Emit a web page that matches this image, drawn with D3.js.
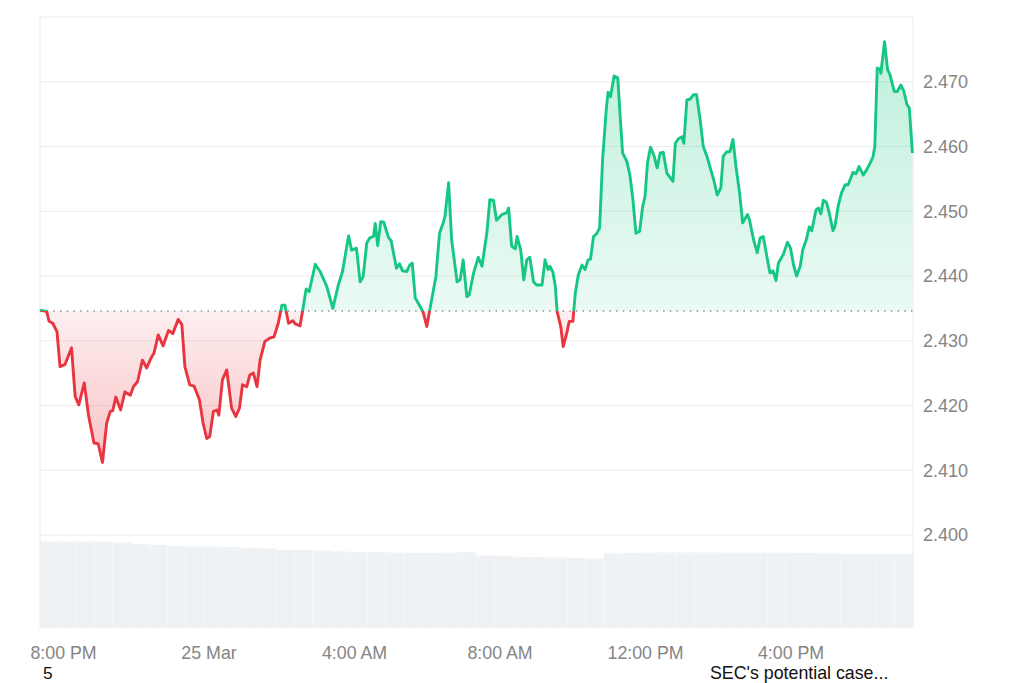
<!DOCTYPE html>
<html>
<head>
<meta charset="utf-8">
<script src="https://cdn.jsdelivr.net/npm/d3@7"></script>
<style>
  body { margin: 0; background: #fff; }
  text { font-family: "Liberation Sans", Arial, sans-serif; }
</style>
</head>
<body>
<script>
// 24h window, first point is the open price (dotted baseline)
const startTime = new Date(2025, 2, 24, 19, 22);

// minutes after startTime
const minutes = [
  0, 3, 11, 15, 21, 28, 33, 41, 52, 58, 64, 73, 80, 89, 96, 103, 110, 116, 120, 125,
  133, 140, 149, 154, 161, 169, 176, 183, 188, 195, 203, 212, 219, 228, 234, 239, 247, 254, 263, 269,
  275, 280, 286, 292, 295, 301, 308, 316, 323, 329, 334, 341, 346, 352, 358, 363, 371, 379, 386, 393,
  399, 404, 410, 417, 421, 429, 433, 439, 444, 454, 462, 473, 483, 492, 499, 509, 514, 522, 528, 533,
  539, 544, 550, 553, 557, 562, 567, 575, 579, 588, 593, 598, 605, 610, 614, 619, 627, 632, 638, 643,
  653, 659, 665, 668, 674, 679, 688, 693, 698, 704, 708, 715, 723, 729, 737, 742, 748, 753, 762, 770,
  773, 778, 784, 787, 793, 798, 803, 808, 814, 819, 828, 833, 838, 841, 846, 850, 853, 859, 863, 869,
  873, 879, 883, 888, 894, 899, 904, 908, 913, 918, 923, 928, 934, 937, 941, 947, 953, 957, 961, 968,
  973, 978, 983, 989, 994, 998, 1002, 1007, 1013, 1018, 1023, 1028, 1034, 1044, 1048, 1053, 1059, 1062, 1067, 1072,
  1078, 1083, 1089, 1094, 1100, 1105, 1112, 1117, 1123, 1127, 1133, 1138, 1143, 1148, 1154, 1159, 1167, 1170, 1177, 1183,
  1188, 1193, 1199, 1204, 1209, 1214, 1218, 1226, 1233, 1238, 1243, 1248, 1254, 1258, 1264, 1269, 1273, 1280, 1284, 1288,
  1292, 1297, 1302, 1308, 1311, 1317, 1322, 1328, 1333, 1341, 1346, 1351, 1358, 1364, 1369, 1374, 1377, 1381, 1386, 1387,
  1393, 1398, 1402, 1409, 1414, 1420, 1425, 1430, 1434, 1439
];

const prices = [
  2.4346, 2.4347, 2.4345, 2.4330, 2.4327, 2.4314, 2.4260, 2.4263, 2.4289, 2.4214, 2.4201, 2.4235, 2.4185, 2.4142, 2.4141, 2.4112, 2.4173, 2.4191, 2.4192, 2.4213,
  2.4193, 2.4221, 2.4216, 2.4229, 2.4237, 2.4270, 2.4258, 2.4273, 2.4281, 2.4309, 2.4292, 2.4316, 2.4311, 2.4333, 2.4325, 2.4260, 2.4232, 2.4230, 2.4209, 2.4173,
  2.4149, 2.4152, 2.4191, 2.4193, 2.4185, 2.4240, 2.4255, 2.4196, 2.4183, 2.4196, 2.4232, 2.4229, 2.4247, 2.4250, 2.4229, 2.4270, 2.4299, 2.4304, 2.4306, 2.4327,
  2.4355, 2.4355, 2.4327, 2.4331, 2.4326, 2.4323, 2.4345, 2.4380, 2.4376, 2.4418, 2.4407, 2.4384, 2.4350, 2.4386, 2.4407, 2.4462, 2.4440, 2.4443, 2.4391, 2.4399,
  2.4451, 2.4459, 2.4461, 2.4481, 2.4447, 2.4484, 2.4483, 2.4459, 2.4455, 2.4412, 2.4419, 2.4408, 2.4407, 2.4417, 2.4420, 2.4366, 2.4353, 2.4344, 2.4322, 2.4348,
  2.4399, 2.4466, 2.4482, 2.4492, 2.4544, 2.4456, 2.4391, 2.4394, 2.4425, 2.4368, 2.4371, 2.4404, 2.4429, 2.4415, 2.4466, 2.4518, 2.4517, 2.4486, 2.4495, 2.4498,
  2.4505, 2.4446, 2.4442, 2.4461, 2.4440, 2.4394, 2.4425, 2.4429, 2.4391, 2.4386, 2.4386, 2.4425, 2.4410, 2.4415, 2.4406, 2.4384, 2.4345, 2.4322, 2.4291, 2.4312,
  2.4330, 2.4330, 2.4374, 2.4402, 2.4417, 2.4410, 2.4425, 2.4426, 2.4461, 2.4465, 2.4474, 2.4580, 2.4657, 2.4684, 2.4677, 2.4709, 2.4706, 2.4646, 2.4590, 2.4577,
  2.4556, 2.4518, 2.4466, 2.4469, 2.4507, 2.4523, 2.4574, 2.4599, 2.4585, 2.4567, 2.4590, 2.4591, 2.4559, 2.4546, 2.4605, 2.4612, 2.4615, 2.4605, 2.4672, 2.4673,
  2.4680, 2.4680, 2.4641, 2.4600, 2.4585, 2.4569, 2.4546, 2.4525, 2.4536, 2.4585, 2.4592, 2.4592, 2.4611, 2.4569, 2.4528, 2.4482, 2.4495, 2.4488, 2.4456, 2.4436,
  2.4459, 2.4461, 2.4430, 2.4405, 2.4408, 2.4393, 2.4420, 2.4433, 2.4452, 2.4443, 2.4417, 2.4400, 2.4415, 2.4440, 2.4456, 2.4476, 2.4470, 2.4502, 2.4505, 2.4496,
  2.4517, 2.4514, 2.4497, 2.4470, 2.4476, 2.4510, 2.4528, 2.4541, 2.4541, 2.4560, 2.4558, 2.4569, 2.4556, 2.4565, 2.4574, 2.4584, 2.4600, 2.4721, 2.4719, 2.4713,
  2.4762, 2.4719, 2.4711, 2.4685, 2.4685, 2.4695, 2.4685, 2.4665, 2.4659, 2.4590
];

// volume, one bar per 30 minutes (millions)
const volumes = [
  86.3, 86.3, 86.3, 86.3, 85.5, 84.0, 83.0, 82.0, 81.3, 81.3, 81.0, 80.0, 79.5, 78.0, 78.0, 77.5,
  76.5, 76.0, 76.0, 75.5, 75.0, 75.0, 75.5, 76.0, 72.5, 72.0, 71.0, 71.0, 70.5, 70.0, 69.5, 74.5,
  75.0, 75.5, 75.7, 75.7, 75.7, 75.5, 75.3, 75.3, 75.2, 75.0, 75.0, 74.5, 74.0, 74.0, 74.0, 74.0
];

const gridTicks = [2.40, 2.41, 2.42, 2.43, 2.44, 2.45, 2.46, 2.47, 2.48];
const labelTicks = [2.40, 2.41, 2.42, 2.43, 2.44, 2.45, 2.46, 2.47];
const notes = ['5', "SEC's potential case..."];

const width = 1024;
const height = 683;
const plot = { left: 40, right: 913, top: 17, bottom: 535 };
const vol = { top: 541.7, bottom: 628 };

const green = '#16c784';
const red = '#e8353f';

const svg = d3.select('body').append('svg').attr('width', width).attr('height', height);
const defs = svg.append('defs');

const x = d3
  .scaleTime()
  .domain([startTime, d3.timeMinute.offset(startTime, 1440)])
  .range([plot.left, plot.right]);
const y = d3.scaleLinear().domain([2.40, 2.48]).range([plot.bottom, plot.top]);
const yVol = d3.scaleLinear().domain([0, d3.max(volumes)]).range([vol.bottom, vol.top]);

const series = minutes.map((m, i) => ({ t: d3.timeMinute.offset(startTime, m), p: prices[i] }));
const baseY = y(prices[0]);

// volume bars (faint light seams between bars like the original)
svg
  .append('g')
  .selectAll('rect')
  .data(volumes)
  .join('rect')
  .attr('x', (d, i) => x(d3.timeMinute.offset(startTime, i * 30)))
  .attr('width', (d, i) => x(d3.timeMinute.offset(startTime, (i + 1) * 30)) - x(d3.timeMinute.offset(startTime, i * 30)))
  .attr('y', d => yVol(d))
  .attr('height', d => vol.bottom - yVol(d))
  .attr('fill', '#eff2f5')
  .attr('stroke', '#f5f7f9')
  .attr('stroke-width', 0.5);

// grid
svg
  .append('g')
  .selectAll('line')
  .data(gridTicks)
  .join('line')
  .attr('x1', plot.left)
  .attr('x2', plot.right)
  .attr('y1', d => y(d))
  .attr('y2', d => y(d))
  .attr('stroke', '#ececec')
  .attr('stroke-width', 1);

// left / right frame
[plot.left, plot.right].forEach(px => {
  svg
    .append('line')
    .attr('x1', px)
    .attr('x2', px)
    .attr('y1', plot.top)
    .attr('y2', vol.bottom)
    .attr('stroke', '#ececec');
});

// gradients
function grad(id, color, y1, y2, o1, o2) {
  const g = defs
    .append('linearGradient')
    .attr('id', id)
    .attr('gradientUnits', 'userSpaceOnUse')
    .attr('x1', 0)
    .attr('x2', 0)
    .attr('y1', y1)
    .attr('y2', y2);
  g.append('stop').attr('offset', 0).attr('stop-color', color).attr('stop-opacity', o1);
  g.append('stop').attr('offset', 1).attr('stop-color', color).attr('stop-opacity', o2);
}
grad('gUp', green, y(d3.max(prices)), baseY, 0.28, 0.09);
grad('gDown', red, baseY, y(d3.min(prices)), 0.08, 0.3);

// clip above / below baseline
defs
  .append('clipPath')
  .attr('id', 'clipUp')
  .append('rect')
  .attr('x', 0)
  .attr('y', 0)
  .attr('width', width)
  .attr('height', baseY);
defs
  .append('clipPath')
  .attr('id', 'clipDown')
  .append('rect')
  .attr('x', 0)
  .attr('y', baseY)
  .attr('width', width)
  .attr('height', height - baseY);

const area = d3
  .area()
  .x(d => x(d.t))
  .y0(baseY)
  .y1(d => y(d.p));
const line = d3
  .line()
  .x(d => x(d.t))
  .y(d => y(d.p));

svg.append('path').datum(series).attr('d', area).attr('fill', 'url(#gUp)').attr('clip-path', 'url(#clipUp)');
svg.append('path').datum(series).attr('d', area).attr('fill', 'url(#gDown)').attr('clip-path', 'url(#clipDown)');

// dotted open-price line
svg
  .append('line')
  .attr('x1', plot.left)
  .attr('x2', plot.right)
  .attr('y1', baseY)
  .attr('y2', baseY)
  .attr('stroke', '#8c8c8c')
  .attr('stroke-width', 1.4)
  .attr('stroke-dasharray', '1.4 5.3');

svg
  .append('path')
  .datum(series)
  .attr('d', line)
  .attr('fill', 'none')
  .attr('stroke', green)
  .attr('stroke-width', 2.9)
  .attr('stroke-linejoin', 'round')
  .attr('clip-path', 'url(#clipUp)');
svg
  .append('path')
  .datum(series)
  .attr('d', line)
  .attr('fill', 'none')
  .attr('stroke', red)
  .attr('stroke-width', 2.9)
  .attr('stroke-linejoin', 'round')
  .attr('clip-path', 'url(#clipDown)');

// y axis on the right
const yAxis = svg
  .append('g')
  .attr('transform', `translate(${plot.right},0)`)
  .call(d3.axisRight(y).tickValues(labelTicks).tickFormat(d3.format('.3f')).tickSize(0).tickPadding(10));
yAxis.select('.domain').remove();
yAxis.selectAll('text').attr('fill', '#858585').style('font-size', '18px');

// x axis
const fmtDay = d3.timeFormat('%-d %b');
const fmtHour = d3.timeFormat('%-I:%M %p');
const xAxis = svg
  .append('g')
  .attr('transform', `translate(0,${vol.bottom})`)
  .call(
    d3
      .axisBottom(x)
      .ticks(d3.timeHour.every(4))
      .tickFormat(d => (d.getHours() === 0 ? fmtDay(d) : fmtHour(d)))
      .tickSize(0)
      .tickPadding(18.5)
  );
xAxis.select('.domain').remove();
xAxis.selectAll('text').attr('fill', '#858585').style('font-size', '17.8px');

// annotation labels under the axis (kept inside the frame)
svg.append('text').attr('x', 43).attr('y', 679).attr('fill', '#111').style('font-size', '17.4px').text(notes[0]);
svg.append('text').attr('x', 710).attr('y', 679).attr('fill', '#111').style('font-size', '17.8px').text(notes[1]);
</script>
</body>
</html>
